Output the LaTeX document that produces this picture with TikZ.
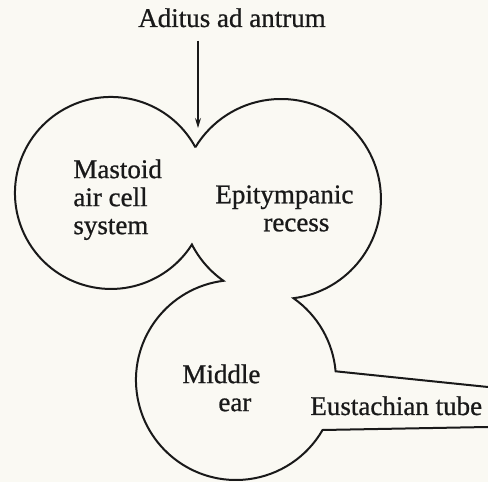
\documentclass[tikz,border=0pt]{standalone}
\usepackage{fontspec}
\setmainfont{Liberation Serif}
\newfontfamily\inkfont{Liberation Serif}[FakeBold=0.8]
\usetikzlibrary{arrows.meta}
\definecolor{paper}{RGB}{250,249,243}
\definecolor{ink}{RGB}{25,25,25}
\begin{document}
\begin{tikzpicture}[x=0.5pt,y=0.5pt,
  outline/.style={draw=ink,line width=1pt,line join=miter},
  lbl/.style={font=\inkfont\fontsize{13.5pt}{14pt}\selectfont,text=ink,inner sep=0pt},
  pointer/.style={draw=ink,line width=0.55pt,-{Stealth[length=5pt,width=3pt]}}]
\fill[paper] (0,0) rectangle (488,482);
\useasboundingbox (0,0) rectangle (488,482);
% cusp points
\coordinate (A) at (195.4,334.7);
\coordinate (tubeLowEnd) at (488,55);
\coordinate (tubeUpEnd) at (488,95);
\coordinate (tubeUpStart) at (335.6,110.7);
% outline: mastoid -> epitympanic -> middle ear -> tube
\draw[outline] (A) arc[start angle=28.4, end angle=327.5, radius=48pt]
   arc[start angle=207.1, end angle=234.9, radius=50pt]
   arc[start angle=97.2, end angle=330, radius=50pt]
   -- (tubeLowEnd);
\draw[outline] (tubeUpEnd) -- (tubeUpStart)
   arc[start angle=5, end angle=54.9, radius=50pt]
   arc[start angle=-82.8, end angle=148.9, radius=50pt];
% labels
\node[lbl,anchor=base] (aditus) at (232,455) {Aditus ad antrum};
\node[lbl,align=left,anchor=north west] (mastoid) at (73,323) {Mastoid\\air cell\\system};
\node[lbl,align=left,anchor=north west] (epi) at (215,297) {Epitympanic\\\hspace*{24pt}recess};
\node[lbl,align=left,anchor=north west] (middle) at (182,118) {Middle\\\hspace*{18pt}ear};
\node[lbl,anchor=base west] (tube) at (310,67) {Eustachian tube};
% arrow to the aditus
\coordinate (tip) at (198,354);
\draw[pointer,shorten <=6.5pt] (aditus.south -| tip) -- (tip);
\end{tikzpicture}
\end{document}
